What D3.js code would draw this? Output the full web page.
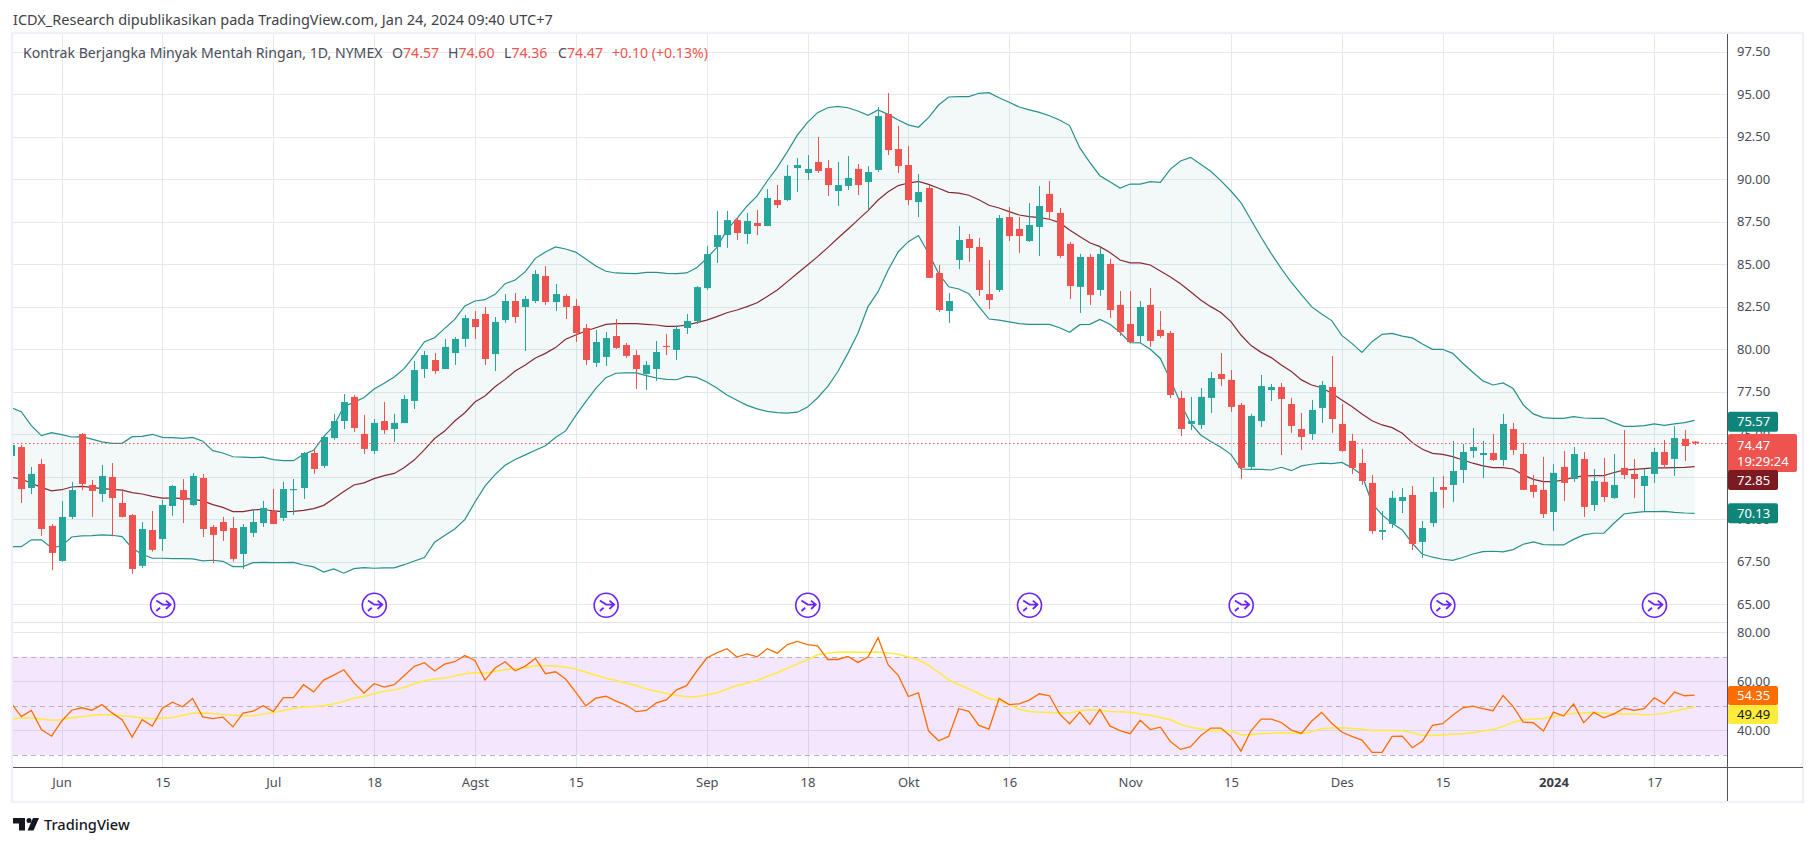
<!DOCTYPE html>
<html><head><meta charset="utf-8">
<script src="https://cdn.jsdelivr.net/npm/d3@7/dist/d3.min.js"></script>
<style>html,body{margin:0;padding:0;background:#fff}svg{display:block}text{font-family:"Noto Sans",sans-serif}</style>
</head><body><svg id="c" width="1815" height="846"></svg>
<script>
const opens=[73.72,74.25,71.84,73.25,69.61,67.55,70.14,75.02,72.02,71.49,
72.49,70.96,70.25,67.26,69.37,68.84,70.78,71.72,70.84,72.43,
69.55,69.84,69.49,67.96,69.2,69.78,70.49,70.08,71.73,71.84,
73.9,73.14,74.78,75.78,77.2,75.02,74.02,75.78,75.31,75.66,
76.96,78.84,79.37,78.84,79.78,80.61,81.78,82.08,79.72,81.72,
82.84,82.49,82.84,84.31,82.78,83.14,82.55,81.25,79.2,79.55,
80.78,80.25,79.66,78.55,78.84,80.2,79.96,81.25,81.66,83.6,
86.02,86.72,87.6,86.78,87.43,87.25,88.78,88.78,90.66,90.37,
91.02,90.66,89.31,89.61,90.61,89.84,90.55,93.84,91.78,90.84,
88.66,89.49,84.49,82.25,85.25,86.49,86.02,83.25,83.49,87.78,
87.08,86.37,87.2,89.14,88.02,86.2,83.67,85.43,83.49,85.02,
82.61,81.49,80.78,82.61,81.14,80.96,77.14,75.61,75.55,77.14,
78.55,78.2,76.73,73.08,75.78,77.6,77.78,76.78,75.31,75.02,
76.55,77.78,75.61,74.61,73.31,72.14,69.26,69.73,71.08,71.43,
68.67,69.78,71.9,72.02,72.9,74.02,73.78,73.9,73.49,75.31,
73.84,72.02,71.73,70.43,73.08,72.37,73.55,70.84,72.2,71.25,
73.02,72.67,71.96,72.67,73.96,73.55,74.73,74.57];
const highs=[74.4,74.37,73.08,73.55,69.72,71.08,72.2,75.08,72.31,73.2,
73.31,71.78,70.31,69.84,70.49,71.14,72.02,72.37,72.72,72.67,
69.67,70.14,70.14,69.72,70.61,71.08,71.78,72.2,72.37,73.96,
74.14,74.9,76.2,77.37,77.31,76.14,75.9,76.9,76.2,77.31,
79.31,79.9,79.78,80.61,80.72,82.02,82.25,82.49,81.9,83.25,
83.31,83.14,84.66,84.9,83.84,83.25,82.96,81.49,81.14,81.02,
81.78,80.37,79.96,79.31,80.49,80.9,81.4,82.08,83.72,86.08,
88.14,88.14,87.78,88.02,88.2,89.43,89.66,90.84,91.25,91.43,
92.49,91.14,91.02,91.37,90.9,90.78,94.25,95.08,93.14,91.96,
90.31,89.66,84.96,83.31,87.25,86.78,86.55,85.25,87.9,88.37,
87.78,88.61,89.61,89.9,88.31,86.31,85.61,85.61,85.96,85.31,
83.43,83.43,82.84,83.61,82.25,81.08,77.55,77.2,77.72,78.67,
79.78,78.78,76.84,76.2,78.49,77.96,78.02,77.14,76.25,77.02,
78.14,79.61,76.78,75.02,74.14,72.61,70.49,71.67,71.84,71.96,
69.9,72.49,72.55,74.61,74.43,75.37,74.61,75.02,76.2,75.67,
74.49,72.61,73.67,73.25,74.02,74.25,73.96,72.96,73.61,73.84,
75.25,73.55,72.96,74.2,74.67,75.49,75.25,74.6];
const lows=[73.72,70.96,71.49,69.02,67.02,67.5,70.02,71.72,70.14,71.02,
69.0,70.1,66.79,67.14,68.1,68.14,70.2,69.78,70.78,68.96,
67.41,68.73,67.51,67.08,68.96,69.55,69.72,69.9,70.25,71.2,
72.67,73.02,74.67,75.31,75.14,73.84,73.84,75.02,74.55,75.66,
76.49,78.31,78.55,78.84,79.08,80.14,80.61,79.08,78.72,81.55,
81.55,79.9,82.72,82.61,82.25,81.78,80.43,79.08,78.96,79.02,
80.02,79.49,77.66,77.6,78.14,79.66,79.37,80.9,81.49,83.49,
85.08,85.96,86.43,86.2,86.72,87.25,88.31,88.72,89.25,89.96,
90.37,89.02,88.43,89.37,89.08,88.25,90.43,91.43,90.37,88.49,
87.78,84.2,82.2,81.55,84.72,85.14,83.14,82.37,83.37,86.37,
85.67,86.31,85.49,87.61,85.37,82.96,82.14,82.61,83.14,81.84,
80.78,80.37,80.37,80.14,80.67,77.14,74.9,75.25,75.31,76.25,
77.84,76.31,72.37,72.9,75.43,76.96,73.78,75.08,74.08,74.67,
75.67,75.08,73.96,72.67,72.02,69.14,68.78,69.49,70.37,68.2,
67.73,69.55,70.67,71.02,72.14,73.61,72.43,73.43,73.14,73.78,
71.73,71.27,70.08,69.31,71.08,72.2,70.14,70.49,71.02,71.2,
72.37,71.25,70.49,72.14,73.02,72.55,73.43,74.36];
const closes=[74.37,71.78,72.67,69.43,68.02,70.14,71.72,72.08,71.67,72.55,
71.25,70.14,67.08,69.43,68.2,70.84,71.96,71.14,72.55,69.43,
69.08,69.31,67.67,69.55,69.84,70.67,69.72,71.78,71.78,73.9,
72.96,74.84,75.78,76.9,75.37,74.14,75.67,75.25,75.67,77.08,
78.78,79.66,78.72,80.14,80.61,81.84,81.31,79.43,81.61,82.84,
81.9,82.96,84.43,82.78,83.25,82.49,80.96,79.37,80.43,80.66,
80.08,79.61,78.84,79.08,79.84,80.14,81.2,81.66,83.66,85.6,
86.72,87.6,86.84,87.55,87.25,88.9,88.49,90.2,90.84,90.61,
90.49,89.66,89.66,90.08,89.66,90.43,93.72,91.72,90.78,88.78,
89.25,84.2,82.31,82.84,86.43,85.96,83.49,82.9,87.72,86.66,
86.66,87.31,88.43,88.08,85.49,83.72,85.43,83.2,85.61,82.31,
81.02,80.43,82.49,80.49,80.78,77.31,75.31,75.78,77.2,78.31,
78.25,76.61,73.02,76.08,77.84,77.78,77.08,75.49,74.84,76.43,
77.9,75.9,74.02,73.02,72.25,69.31,69.37,71.26,71.31,68.55,
69.49,71.61,71.73,72.84,73.96,74.25,73.9,73.49,75.61,74.08,
71.73,71.61,70.31,72.73,72.14,73.84,70.73,72.25,71.31,72.02,
72.61,72.37,72.55,73.96,73.2,74.78,74.31,74.47];
const bbUpper=[76.57,76.33,75.51,74.92,75.1,74.98,74.84,74.86,74.72,74.55,
74.47,74.47,74.86,74.88,75.0,74.82,74.8,74.76,74.82,74.59,
74.04,73.9,73.68,73.66,73.63,73.66,73.51,73.45,73.45,73.82,
74.06,74.86,75.49,76.63,76.88,77.16,77.66,78.0,78.37,78.88,
79.63,80.45,80.68,81.23,81.76,82.55,82.84,82.92,83.23,83.86,
84.08,84.57,85.35,85.72,86.02,85.9,85.72,85.31,84.9,84.59,
84.49,84.47,84.45,84.53,84.53,84.47,84.45,84.49,84.8,85.35,
86.0,87.02,87.7,88.43,89.02,89.9,90.7,91.63,92.61,93.35,
93.92,94.21,94.29,94.21,94.02,93.76,94.08,93.82,93.49,93.2,
93.06,93.63,94.37,94.84,94.86,94.86,95.06,95.1,94.8,94.53,
94.25,94.08,93.94,93.74,93.49,93.16,91.86,91.0,90.21,89.86,
89.49,89.72,89.72,89.86,89.82,90.6,91.08,91.29,90.88,90.47,
89.92,89.31,88.63,87.61,86.59,85.63,84.75,83.93,83.22,82.51,
82.08,81.69,80.82,80.35,79.82,80.45,80.88,80.94,80.78,80.67,
80.31,80.0,80.0,79.76,79.18,78.65,78.14,77.9,78.02,77.69,
76.73,76.2,75.98,75.94,75.94,76.04,75.96,75.94,75.94,75.69,
75.47,75.47,75.51,75.61,75.53,75.61,75.69,75.82];
const bbMid=[72.47,72.37,72.12,71.88,71.67,71.74,71.9,71.94,71.88,71.8,
71.76,71.72,71.57,71.49,71.35,71.25,71.25,71.23,71.19,71.08,
70.86,70.7,70.45,70.45,70.55,70.59,70.49,70.45,70.47,70.53,
70.63,70.82,71.23,71.63,72.02,72.14,72.39,72.57,72.7,73.05,
73.5,74.1,74.75,75.19,75.78,76.27,76.9,77.25,77.8,78.23,
78.72,79.08,79.49,79.76,80.1,80.59,80.84,81.08,81.27,81.47,
81.51,81.51,81.51,81.47,81.43,81.35,81.35,81.43,81.57,81.72,
81.92,82.15,82.31,82.51,82.74,83.1,83.49,83.98,84.47,84.96,
85.45,85.98,86.53,87.06,87.61,88.16,88.78,89.27,89.63,89.78,
89.88,89.7,89.47,89.23,89.19,89.06,88.8,88.47,88.31,88.1,
87.9,87.8,87.74,87.65,87.45,87.02,86.63,86.27,86.04,85.7,
85.25,85.08,85.08,84.96,84.61,84.25,83.85,83.39,82.9,82.51,
82.16,81.63,80.84,80.22,79.82,79.51,79.08,78.69,78.2,77.9,
77.74,77.41,77.02,76.63,76.2,75.8,75.55,75.39,75.06,74.51,
74.12,73.88,73.82,73.69,73.49,73.3,73.14,73.04,73.04,72.96,
72.61,72.35,72.22,72.22,72.31,72.47,72.55,72.57,72.57,72.75,
72.9,72.94,72.98,73.02,73.02,73.04,73.06,73.1];
const bbLower=[68.39,68.39,68.79,68.79,68.33,68.43,68.96,69.02,69.04,69.08,
69.06,68.98,68.3,67.94,67.71,67.71,67.69,67.69,67.67,67.55,
67.59,67.53,67.22,67.22,67.45,67.47,67.45,67.45,67.47,67.31,
67.2,66.9,67.08,66.83,67.1,67.16,67.12,67.14,67.14,67.33,
67.55,67.75,68.65,69.05,69.43,69.98,71.0,71.95,72.63,73.18,
73.52,73.79,74.06,74.33,74.81,75.2,76.1,76.92,77.7,78.33,
78.59,78.61,78.61,78.45,78.31,78.23,78.21,78.41,78.35,78.08,
77.72,77.31,77.0,76.7,76.5,76.35,76.28,76.25,76.3,76.6,
77.15,77.8,78.68,79.76,80.94,82.51,83.39,84.67,85.74,86.33,
86.69,85.65,84.47,83.68,83.55,83.27,82.51,81.78,81.72,81.61,
81.51,81.47,81.47,81.47,81.27,81.0,81.45,81.47,81.76,81.47,
81.0,80.39,80.38,80.0,79.46,78.2,76.82,75.65,74.96,74.57,
74.24,73.82,72.96,72.94,72.94,72.9,73.06,72.86,73.14,73.24,
73.31,73.27,73.35,73.04,72.61,70.94,70.26,69.77,69.37,68.59,
67.94,67.77,67.65,67.59,67.75,67.96,68.1,68.12,68.08,68.22,
68.53,68.67,68.51,68.49,68.49,68.82,69.08,69.18,69.18,69.77,
70.31,70.39,70.45,70.45,70.47,70.41,70.37,70.35];
const rsi=[51.1,45.6,48.1,40.3,37.6,43.7,48.2,49.2,48.2,50.5,
47.1,44.3,37.2,44.3,41.7,49.0,51.5,49.6,53.0,45.5,
44.8,45.4,41.4,47.0,47.8,50.0,47.6,53.3,53.3,58.6,
55.7,60.5,62.5,64.7,59.4,55.2,59.0,57.6,58.6,62.4,
66.1,67.6,64.2,67.0,68.0,70.5,68.5,60.5,65.4,68.0,
64.3,66.2,69.3,63.1,63.9,60.9,55.6,50.0,53.1,53.9,
51.9,50.3,47.6,48.1,51.2,52.4,56.5,58.2,64.1,69.5,
71.6,73.3,69.9,71.2,70.0,73.3,71.5,75.0,76.3,75.0,
74.5,68.9,68.9,70.1,67.7,69.9,77.8,66.7,62.4,53.8,
55.3,39.8,35.7,37.5,48.8,47.7,42.0,40.5,53.0,50.5,
50.8,52.3,54.9,54.1,46.7,42.7,47.4,42.4,48.5,41.8,
39.9,38.6,44.1,40.3,41.3,35.4,32.2,33.3,37.8,40.9,
40.9,37.5,31.5,39.9,44.6,44.6,43.2,40.1,38.7,43.7,
47.3,42.9,39.3,37.5,36.0,31.0,31.0,37.5,37.6,32.9,
35.6,42.0,42.7,46.1,49.2,49.9,48.8,48.0,54.2,49.7,
43.3,43.1,39.7,47.4,45.8,50.8,43.1,47.3,45.1,46.7,
49.0,48.1,48.8,53.3,50.8,55.6,54.1,54.35];
const rsiMa=[44.7,45.0,45.0,44.6,44.1,44.3,45.1,45.6,46.1,46.3,
46.3,45.9,45.5,45.0,44.7,45.0,45.2,46.1,47.0,47.1,
46.9,46.5,46.1,45.8,45.9,46.6,47.3,48.1,48.9,49.5,
49.7,50.0,50.7,51.8,53.1,53.8,54.9,55.9,56.5,57.6,
59.0,60.2,60.9,61.3,62.2,63.1,63.5,63.3,64.1,64.7,
65.1,65.5,66.3,66.3,66.2,65.8,65.0,63.7,62.5,61.3,
60.3,59.3,58.3,56.9,55.9,55.0,54.2,53.8,53.7,54.4,
55.3,56.8,58.3,59.3,60.3,62.0,63.5,65.4,67.1,68.8,
70.8,71.5,71.9,72.0,71.9,71.9,72.0,71.6,71.0,69.9,
68.8,66.5,63.7,60.6,58.7,56.9,54.9,53.0,52.2,50.5,
48.6,47.7,47.4,47.3,47.1,47.1,48.0,48.4,48.2,47.7,
47.6,47.4,46.7,46.1,45.2,44.3,42.5,41.2,40.5,39.9,
39.9,39.8,38.2,38.2,38.7,38.8,39.0,38.8,38.7,39.4,
40.6,40.9,41.0,40.7,40.5,39.9,39.9,39.9,39.8,39.0,
38.0,37.9,38.2,38.4,38.6,39.0,39.7,40.3,41.6,43.3,
44.3,44.6,44.8,45.6,46.3,47.0,47.1,47.3,47.0,46.7,
46.7,46.7,46.3,46.5,47.0,47.8,48.8,49.49];
const timeTickBars=[5,15,26,36,46,56,69,79,89,99,111,121,132,142,153,163];
const timeTickLabels=["Jun","15","Jul","18","Agst","15","Sep","18","Okt","16","Nov","15","Des","15","2024","17"];
const priceGrid=[65,67.5,70,72.5,75,77.5,80,82.5,85,87.5,90,92.5,95,97.5];
const priceTicks=[65,67.5,70,75,77.5,80,82.5,85,87.5,90,92.5,95,97.5];
const rsiTicks=[40,60,80];
const rsiBands=[30,50,70];
const eventBars=[15,36,59,79,101,122,142,163];
const titleText="ICDX_Research dipublikasikan pada TradingView.com, Jan 24, 2024 09:40 UTC+7";
const legendName="Kontrak Berjangka Minyak Mentah Ringan, 1D, NYMEX";
const lastPrice=74.47;

const svg=d3.select("#c");
const L=13,R=1727,FR=1803,TOP=34,PB=622,RB=767,FB=801;
const x=d3.scaleLinear().domain([0,167]).range([11.2,1694.6]);
const y=d3.scaleLinear().domain([65,97.5]).range([604.3,51.8]);
const yr=d3.scaleLinear().domain([30,80]).range([754.8,632.3]);
const bars=d3.range(opens.length);
const GRID="#e2eaf0",UP="#26a69a",DN="#ef5350",TXT="#4a4d57";
const defs=svg.append("defs");
defs.append("clipPath").attr("id","cp").append("rect").attr("x",L).attr("y",TOP).attr("width",R-L).attr("height",PB-TOP);
defs.append("clipPath").attr("id","cr").append("rect").attr("x",L).attr("y",PB).attr("width",R-L).attr("height",RB-PB);

// frame
svg.append("rect").attr("x",L-1).attr("y",TOP-1).attr("width",FR-L+1).attr("height",FB-TOP+2).attr("fill","none").attr("stroke","#eff1f7").attr("stroke-width",2.5);

// vertical + horizontal grid
svg.append("g").selectAll("line").data(timeTickBars).join("line")
 .attr("x1",d=>Math.round(x(d))+.5).attr("x2",d=>Math.round(x(d))+.5).attr("y1",TOP).attr("y2",RB).attr("stroke",GRID);
svg.append("g").selectAll("line").data(priceGrid).join("line")
 .attr("x1",L).attr("x2",R).attr("y1",d=>Math.round(y(d))+.5).attr("y2",d=>Math.round(y(d))+.5).attr("stroke",GRID);
svg.append("g").selectAll("line").data(rsiTicks).join("line")
 .attr("x1",L).attr("x2",R).attr("y1",d=>Math.round(yr(d))+.5).attr("y2",d=>Math.round(yr(d))+.5).attr("stroke",GRID);
svg.append("line").attr("x1",L).attr("x2",R).attr("y1",622.5).attr("y2",622.5).attr("stroke","#dfe3ea");

// Bollinger
const gp=svg.append("g").attr("clip-path","url(#cp)");
gp.append("path").datum(bars).attr("fill","#26908c").attr("fill-opacity",.055)
 .attr("d",d3.area().x(i=>x(i)).y0(i=>y(bbLower[i])).y1(i=>y(bbUpper[i])));
const ln=(arr,sc)=>d3.line().x(i=>x(i)).y(i=>sc(arr[i]));
[[bbUpper,"#28908c"],[bbLower,"#28908c"],[bbMid,"#862a33"]].forEach(([a,c])=>{
 gp.append("path").datum(bars).attr("fill","none").attr("stroke",c).attr("stroke-width",1.2).attr("d",ln(a,y));
});

// candles
const gc=gp.append("g");
gc.selectAll("line").data(bars).join("line")
 .attr("x1",i=>Math.round(x(i))+.5).attr("x2",i=>Math.round(x(i))+.5)
 .attr("y1",i=>y(highs[i])).attr("y2",i=>y(lows[i]))
 .attr("stroke",i=>closes[i]>=opens[i]?UP:DN);
gc.selectAll("rect").data(bars).join("rect")
 .attr("x",i=>Math.round(x(i))-3).attr("width",7)
 .attr("y",i=>y(Math.max(opens[i],closes[i])))
 .attr("height",i=>Math.max(1.2,Math.abs(y(opens[i])-y(closes[i]))))
 .attr("fill",i=>closes[i]>=opens[i]?UP:DN);

// last price line
svg.append("line").attr("x1",L).attr("x2",R).attr("y1",Math.round(y(lastPrice))+.5).attr("y2",Math.round(y(lastPrice))+.5)
 .attr("stroke",DN).attr("stroke-dasharray","1.5 2.5");

// event markers
const ev=svg.append("g").selectAll("g").data(eventBars).join("g")
 .attr("transform",d=>`translate(${x(d)+.2},605.3)`)
 .attr("fill","none").attr("stroke","#6a24ff");
ev.append("circle").attr("r",12).attr("fill","#fff").attr("stroke-width",1.6);
ev.append("path").attr("stroke-width",1.8).attr("d","M-6.3-4.7L0-.7H7.6M3.3-4.7L8-.7L3.3 3.7M-6.3 5.7L-2.5 2.5");

// RSI
const gr=svg.append("g").attr("clip-path","url(#cr)");
gr.append("rect").attr("x",L).attr("width",R-L).attr("y",yr(70)).attr("height",yr(30)-yr(70)).attr("fill","rgb(146,28,237)").attr("fill-opacity",.11);
gr.append("g").selectAll("line").data(rsiBands).join("line")
 .attr("x1",L).attr("x2",R).attr("y1",d=>Math.round(yr(d))+.5).attr("y2",d=>Math.round(yr(d))+.5)
 .attr("stroke","#b8b3bf").attr("stroke-dasharray","5 4");
gr.append("path").datum(bars).attr("fill","none").attr("stroke","#ffeb3b").attr("stroke-width",1.5).attr("d",ln(rsiMa,yr));
gr.append("path").datum(bars).attr("fill","none").attr("stroke","#ff6d00").attr("stroke-width",1.3).attr("d",ln(rsi,yr));

// axes
const axR=d3.axisRight(y).tickValues(priceTicks).tickFormat(d3.format(".2f")).tickSize(0).tickPadding(10);
const axRs=d3.axisRight(yr).tickValues(rsiTicks).tickFormat(d3.format(".2f")).tickSize(0).tickPadding(10);
const axB=d3.axisBottom(x).tickValues(timeTickBars).tickFormat((d,i)=>timeTickLabels[i]).tickSize(0).tickPadding(11);
[[axR,`translate(${R},0)`],[axRs,`translate(${R},0)`],[axB,`translate(0,${RB})`]].forEach(([a,t])=>{
 const g=svg.append("g").attr("transform",t).call(a);
 g.select(".domain").remove();
 g.selectAll("text").attr("font-size",13).attr("fill",TXT).style("font-family",'"Noto Sans",sans-serif');
});
svg.selectAll("g text").filter(function(){return this.textContent==="2024"}).attr("font-weight",700).attr("fill","#3a3d46");
svg.append("line").attr("x1",R+.5).attr("x2",R+.5).attr("y1",TOP).attr("y2",FB).attr("stroke","#50535e");
svg.append("line").attr("x1",L).attr("x2",FR).attr("y1",RB+.5).attr("y2",RB+.5).attr("stroke","#50535e");

// price axis badges
function badge(txt,yc,w,h,bg,fg,extra){
 svg.append("rect").attr("x",R+1).attr("y",yc-h/2).attr("width",w).attr("height",h).attr("rx",2).attr("fill",bg);
 svg.append("text").attr("x",R+10).attr("y",extra?yc-3.5:yc+4.6).attr("font-size",13).attr("fill",fg).text(txt);
 if(extra) svg.append("text").attr("x",R+10).attr("y",yc+12.5).attr("font-size",13).attr("fill",fg).text(extra);
}
badge("75.57",y(bbUpper[167])+1.5,50,20,"#0f8478","#fff");
badge(lastPrice.toFixed(2),453,69,38,DN,"#fff","19:29:24");
badge("72.85",480,50,20,"#7c1a22","#fff");
badge("70.13",y(bbLower[167]),50,20,"#0f8478","#fff");
badge("54.35",695.5,50,19,"#ff6d00","#fff");
badge("49.49",714.5,50,19,"#ffeb3b","#131722");

// header and legend
svg.append("text").attr("x",13).attr("y",25).attr("font-size",14.5).attr("fill","#3f4249").text(titleText);
const lg=svg.append("text").attr("y",58).attr("font-size",14.1).attr("fill","#4a4d57");
lg.append("tspan").attr("x",23).text(legendName);
[["O","74.57",392],["H","74.60",448],["L","74.36",504],["C","74.47",558]].forEach(([a,b,px])=>{
 lg.append("tspan").attr("x",px).text(a);
 lg.append("tspan").attr("fill",DN).text(b);
});
lg.append("tspan").attr("x",612).attr("fill",DN).text("+0.10 (+0.13%)");

// logo
const lo=svg.append("g").attr("fill","#131722");
lo.append("path").attr("d","M13 818H25V830.5H19V823.5H13Z");
lo.append("circle").attr("cx",29).attr("cy",820.6).attr("r",2.5);
lo.append("path").attr("d","M33 818H39L33.5 830.5H27.5Z");
svg.append("text").attr("x",44).attr("y",829.5).attr("font-size",14.6).attr("font-weight",500).attr("fill","#131722").text("TradingView");
</script></body></html>
